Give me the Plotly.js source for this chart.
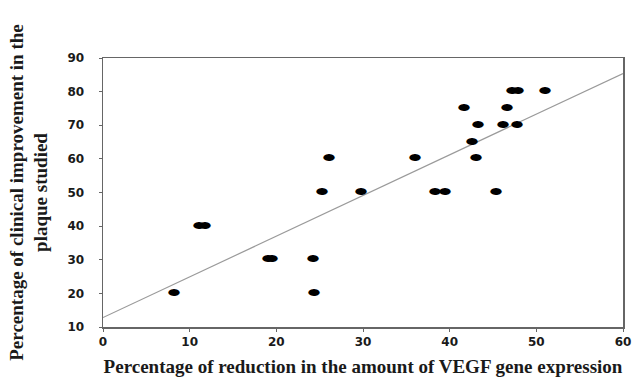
<!DOCTYPE html>
<html><head><meta charset="utf-8">
<script src="https://cdn.plot.ly/plotly-3.0.1.min.js"></script>
<style>html,body{margin:0;padding:0;background:#fff}</style>
</head><body><div id="chart" style="width:633px;height:387px"></div>
<script>
const reductionPct = [8.2, 11.1, 11.8, 19.0, 19.5, 24.2, 24.3, 25.3, 26.1, 29.8, 36.0, 38.3, 39.5, 41.6, 42.6, 43.0, 43.3, 45.3, 46.1, 46.6, 47.2, 47.9, 47.8, 51.0];
const improvementPct = [20, 40, 40, 30, 30, 30, 20, 50, 60, 50, 60, 50, 50, 75, 65, 60, 70, 50, 70, 75, 80, 80, 70, 80];
const trendX = [0, 60];
const trendY = [12.8, 85.4];
const xTicks = [0, 10, 20, 30, 40, 50, 60];
const yTicks = [10, 20, 30, 40, 50, 60, 70, 80, 90];

const tickFont = {family: 'DejaVu Sans', size: 12, color: '#1a1a1a', weight: 'bold'};
const titleFont = {family: 'Liberation Serif', size: 19, color: '#1a1a1a', weight: 'bold'};

Plotly.newPlot('chart', [
  {x: trendX, y: trendY, mode: 'lines', line: {color: '#9a9a9a', width: 1.2}, hoverinfo: 'skip'},
  {x: reductionPct, y: improvementPct, mode: 'text', text: reductionPct.map(() => '⬬'),
   textfont: {family: 'DejaVu Sans', size: 14, color: '#000'}, textposition: 'middle center'}
], {
  width: 633, height: 387,
  margin: {l: 103, r: 10, t: 58, b: 60},
  showlegend: false,
  paper_bgcolor: '#fff', plot_bgcolor: '#fff',
  xaxis: {range: [0, 60], tickvals: xTicks, ticks: 'outside', ticklen: 3, tickcolor: '#666',
    showgrid: false, zeroline: false, showline: true, mirror: true, linecolor: '#666', linewidth: 1.5,
    tickfont: tickFont,
    title: {text: 'Percentage of reduction in the amount of VEGF gene expression', font: titleFont, standoff: 12}},
  yaxis: {range: [10, 90], tickvals: yTicks, ticks: 'outside', ticklen: 3, tickcolor: '#666',
    ticklabelstandoff: 12,
    showgrid: false, zeroline: false, showline: true, mirror: true, linecolor: '#666', linewidth: 1.5,
    tickfont: tickFont,
    title: {text: 'Percentage of clinical improvement in the<br>plaque studied', font: titleFont, standoff: 14}}
}, {displayModeBar: false, staticPlot: true});
</script></body></html>
